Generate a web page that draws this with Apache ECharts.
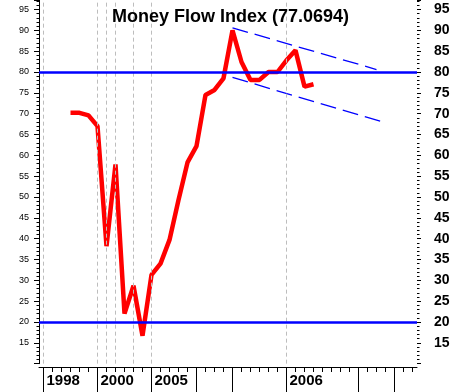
<!DOCTYPE html>
<html><head><meta charset="utf-8">
<script src="https://cdn.jsdelivr.net/npm/echarts@6/dist/echarts.min.js"></script>
<style>html,body{margin:0;padding:0;background:#fff}#c{width:456px;height:392px}</style>
</head><body><div id="c"></div>
<script>
// ---- data ----
const periods = Array.from({length: 42}, (_, i) => String(i));
const mfi = [null, null, null,
  70.2, 70.2, 69.6, 67.0, 38.2, 57.8, 22.0, 28.7, 16.7, 31.3,
  34.0, 39.7, 49.3, 58.3, 62.2, 74.5, 75.7, 78.5, 90.0, 82.4,
  78.1, 78.1, 80.0, 80.0, 82.8, 85.2, 76.5, 77.0694,
  null, null, null, null, null, null, null, null, null, null, null];
const upperTrend = [[21, 90.6], [37, 80.6]];
const lowerTrend = [[21, 78.7], [38, 67.8]];
const levels = [80, 20];
const yLabels = [15, 20, 25, 30, 35, 40, 45, 50, 55, 60, 65, 70, 75, 80, 85, 90, 95];
const yMin = 10, yMax = 97.28;
const xLabelIdx = [0, 6, 12, 27];
const xLabelText = ['1998', '2000', '2005', '2006'];
const xMajorTickIdx = [0, 6, 12, 17, 21, 27, 35, 39];
const xGridIdx = [0, 6, 7, 8, 10, 12, 27];
const titleText = 'Money Flow Index (77.0694)';

// ---- chart ----
const FONT = "'Liberation Sans', Arial, sans-serif";
const chart = echarts.init(document.getElementById('c'), null, {renderer: 'canvas'});
const yFmt = v => (yLabels.indexOf(v) >= 0 ? String(v) : '');
const axisBase = {
  type: 'category', data: periods, boundaryGap: true, position: 'bottom', offset: 3.33,
  splitLine: {show: false}
};
const yBase = {type: 'value', min: yMin, max: yMax, splitLine: {show: false}};
const markData = [];
xGridIdx.forEach(i => markData.push({xAxis: periods[i],
  lineStyle: {color: '#bdbdbd', width: 1, type: [4, 3]}}));
levels.forEach(v => markData.push({yAxis: v,
  lineStyle: {color: '#0000ff', width: 2.5, type: 'solid'}}));

chart.setOption({
  animation: false,
  backgroundColor: '#fff',
  title: {text: titleText, left: 107, top: 3,
    textStyle: {fontFamily: FONT, fontSize: 18, fontWeight: 'bold', color: '#000'}},
  grid: {left: 39, right: 39, top: 0, bottom: 28.33, containLabel: false},
  xAxis: [
    Object.assign({}, axisBase, {
      axisLine: {show: true, lineStyle: {color: '#000', width: 1}},
      axisTick: {show: true, alignWithLabel: true, length: 5, lineStyle: {color: '#000'},
        interval: (i) => xMajorTickIdx.indexOf(i) < 0},
      axisLabel: {show: false}
    }),
    Object.assign({}, axisBase, {
      axisLine: {show: false},
      axisTick: {show: true, alignWithLabel: true, length: 26, lineStyle: {color: '#000'},
        interval: (i) => xMajorTickIdx.indexOf(i) >= 0},
      axisLabel: {show: true, interval: (i) => xLabelIdx.indexOf(i) >= 0,
        formatter: (v, i) => { const k = xLabelIdx.indexOf(i); return k >= 0 ? xLabelText[k] : ''; },
        align: 'left', padding: [0, 0, 0, 3], margin: 6,
        fontFamily: FONT, fontSize: 15, fontWeight: 'bold', color: '#000'}
    })
  ],
  yAxis: [
    Object.assign({}, yBase, {
      position: 'left', interval: 5,
      axisLine: {show: true, lineStyle: {color: '#000', width: 1}},
      axisTick: {show: true, length: 5, lineStyle: {color: '#000'}},
      axisLabel: {formatter: yFmt, margin: 10, fontFamily: FONT, fontSize: 9, color: '#000'}
    }),
    Object.assign({}, yBase, {
      position: 'right', interval: 5,
      axisLine: {show: false},
      axisTick: {show: true, length: 4, lineStyle: {color: '#000'}},
      axisLabel: {formatter: yFmt, margin: 17, fontFamily: FONT, fontSize: 14, fontWeight: 'bold', color: '#000'}
    }),
    Object.assign({}, yBase, {
      position: 'left', interval: 1,
      axisLine: {show: false},
      axisTick: {show: true, length: 2.5, lineStyle: {color: '#000'}},
      axisLabel: {show: false}
    }),
    Object.assign({}, yBase, {
      position: 'right', interval: 1,
      axisLine: {show: false},
      axisTick: {show: true, length: 2.5, lineStyle: {color: '#000'}},
      axisLabel: {show: false}
    })
  ],
  series: [
    {type: 'line', data: [], z: 1, silent: true,
      markLine: {silent: true, symbol: ['none', 'none'], label: {show: false}, data: markData}},
    {type: 'line', data: upperTrend, z: 2, symbol: 'none', silent: true,
      lineStyle: {color: '#0000ff', width: 1.3, type: [16, 7]}},
    {type: 'line', data: lowerTrend, z: 2, symbol: 'none', silent: true,
      lineStyle: {color: '#0000ff', width: 1.3, type: [16, 7]}},
    {type: 'line', data: mfi, z: 3, symbol: 'none', silent: true, connectNulls: false,
      lineStyle: {color: '#ff0000', width: 4.5, join: 'bevel', cap: 'butt'}}
  ]
});
</script></body></html>
